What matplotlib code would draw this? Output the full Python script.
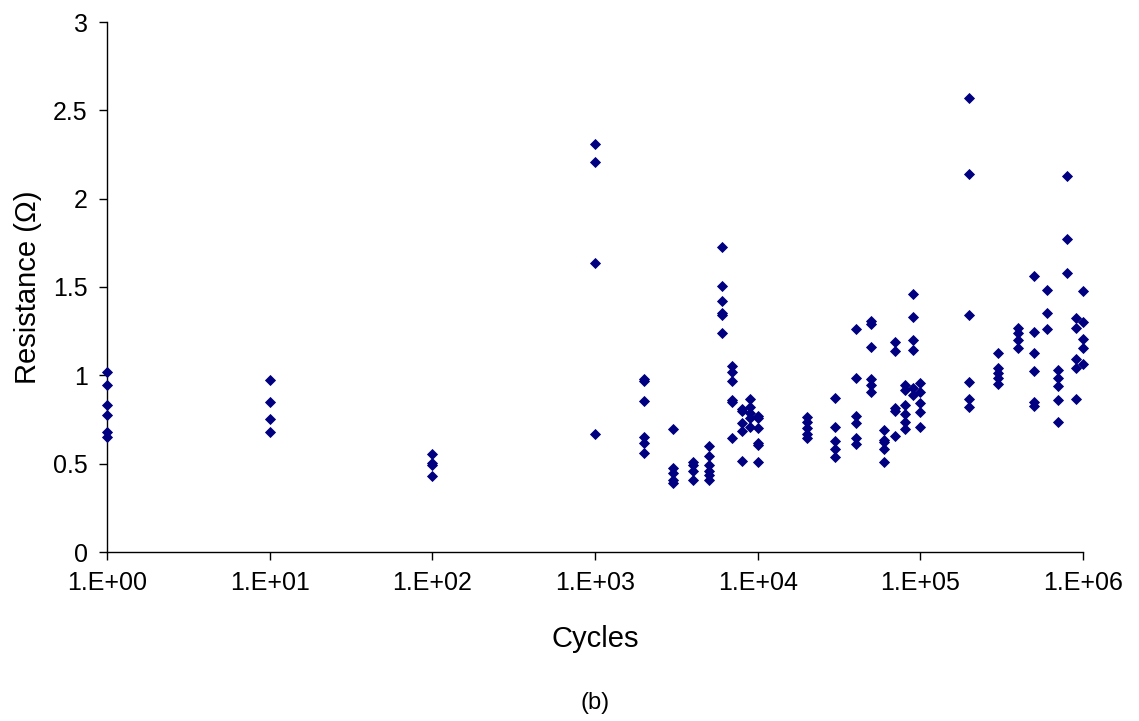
import matplotlib
matplotlib.use("Agg")
import matplotlib.pyplot as plt
import numpy as np
from matplotlib.ticker import FixedLocator, FuncFormatter, NullLocator

plt.rcParams['font.family'] = ['Liberation Sans', 'DejaVu Sans']

# measured points, one line per cycle count
cycles = (
    [1] * 6 + [10] * 4 + [100] * 4 + [1000] * 4 + [2000] * 6 + [3000] * 5
    + [4000] * 4 + [5000] * 6 + [6000] * 6 + [7000] * 6 + [8000] * 5
    + [9000] * 5 + [10000] * 6 + [20000] * 5 + [30000] * 5 + [40000] * 6
    + [50000] * 6 + [60000] * 5 + [70000] * 5 + [80000] * 6 + [90000] * 6
    + [100000] * 5 + [200000] * 6 + [300000] * 5 + [400000] * 4
    + [500000] * 6 + [600000] * 3 + [700000] * 5 + [800000] * 3
    + [900000] * 5 + [1000000] * 5
)
resistance = [
    1.017, 0.945, 0.830, 0.777, 0.681, 0.651,
    0.974, 0.851, 0.753, 0.681,
    0.553, 0.506, 0.493, 0.432,
    2.309, 2.207, 1.634, 0.668,
    0.979, 0.968, 0.855, 0.653, 0.619, 0.562,
    0.694, 0.477, 0.449, 0.408, 0.389,
    0.511, 0.492, 0.460, 0.408,
    0.600, 0.545, 0.492, 0.460, 0.436, 0.408,
    1.726, 1.504, 1.421, 1.355, 1.342, 1.241,
    1.055, 1.021, 0.970, 0.860, 0.850, 0.643,
    0.811, 0.800, 0.728, 0.687, 0.517,
    0.864, 0.823, 0.785, 0.760, 0.709,
    0.772, 0.757, 0.700, 0.619, 0.605, 0.511,
    0.762, 0.738, 0.704, 0.666, 0.643,
    0.870, 0.706, 0.628, 0.581, 0.540,
    1.262, 0.987, 0.770, 0.732, 0.647, 0.610,
    1.309, 1.291, 1.162, 0.977, 0.945, 0.907,
    0.691, 0.634, 0.620, 0.581, 0.511,
    1.191, 1.138, 0.813, 0.800, 0.657,
    0.945, 0.917, 0.832, 0.779, 0.738, 0.696,
    1.462, 1.328, 1.200, 1.142, 0.926, 0.889,
    0.959, 0.907, 0.842, 0.794, 0.709,
    2.572, 2.138, 1.342, 0.960, 0.866, 0.823,
    1.128, 1.040, 1.011, 0.983, 0.951,
    1.266, 1.238, 1.200, 1.153,
    1.564, 1.247, 1.128, 1.025, 0.851, 0.826,
    1.483, 1.351, 1.262,
    1.030, 0.983, 0.940, 0.860, 0.734,
    2.130, 1.772, 1.579,
    1.323, 1.266, 1.091, 1.040, 0.866,
    1.477, 1.300, 1.204, 1.153, 1.064,
]

x_ticks = [1, 10, 100, 1000, 10000, 100000, 1000000]
y_ticks = [0, 0.5, 1, 1.5, 2, 2.5, 3]

fig = plt.figure(figsize=(11.39, 7.21), dpi=100)
ax = fig.add_axes([107 / 1139, 1 - 552 / 721, (1083 - 107) / 1139, (552 - 22) / 721])

ax.plot(cycles, resistance, linestyle='none', marker='D', markersize=4.6,
        color='#000080', markeredgewidth=0.6, clip_on=False, zorder=3)

ax.set_xscale('log')
ax.set_xlim(1, 1e6)
ax.set_ylim(0, 3)

ax.xaxis.set_major_locator(FixedLocator(x_ticks))
ax.xaxis.set_minor_locator(NullLocator())
ax.xaxis.set_major_formatter(FuncFormatter(lambda v, p: "1.E+%02d" % round(np.log10(v))))
ax.set_yticks(y_ticks)
ax.yaxis.set_major_formatter(FuncFormatter(lambda v, p: "%g" % v))

for s in ['top', 'right']:
    ax.spines[s].set_visible(False)
for s in ['left', 'bottom']:
    ax.spines[s].set_linewidth(1.0)
    ax.spines[s].set_color('black')

ax.tick_params(axis='both', direction='out', length=6, width=1, labelsize=18,
               colors='black', pad=8)

ax.set_xlabel('Cycles', fontsize=21, labelpad=21)
ax.set_ylabel('Resistance (Ω)', fontsize=21, labelpad=8)

fig.text(0.5 * (107 + 1083) / 1139, 1 - 703 / 721, '(b)', fontsize=17,
         ha='center', va='center')

fig.savefig('out.png', dpi=100)
